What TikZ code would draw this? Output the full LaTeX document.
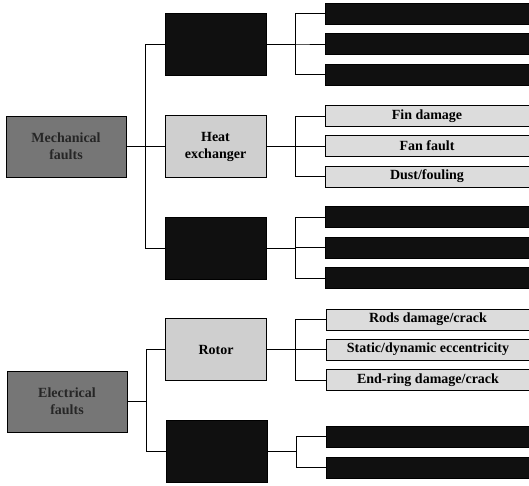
\documentclass[tikz,border=0pt]{standalone}
\usepackage{fontspec}
\setmainfont{Liberation Serif}
\definecolor{rootgray}{HTML}{767676}
\definecolor{midgray}{HTML}{CFCFCF}
\definecolor{leafgray}{HTML}{DCDCDC}
\definecolor{hidden}{HTML}{101010}

\begin{document}
\begin{tikzpicture}[x=1pt, y=-1pt,
  every node/.style={font=\bfseries\fontsize{14}{17}\selectfont, inner sep=0pt},
  root/.style={draw, fill=rootgray, minimum width=120pt, minimum height=61pt,
               align=center, text=black!85},
  part/.style={draw, fill=midgray, minimum width=101pt, minimum height=62pt,
               align=center},
  darkpart/.style={part, fill=hidden},
  leaf/.style={draw, fill=leafgray, minimum width=204pt, minimum height=21pt},
  darkleaf/.style={leaf, fill=hidden},
  link/.style={line width=0.8pt, black},
]
\useasboundingbox (0,0) rectangle (529,486);

% roots
\node[root] (mech) at (66, 146.5) {Mechanical\\faults};
\node[root] (elec) at (67, 401.5) {Electrical\\faults};

% second level
\node[darkpart] (mA) at (215.5, 44) {};
\node[part] (heat) at (215.5, 146.5) {Heat\\exchanger};
\node[darkpart] (mC) at (216, 248) {};
\node[part] (rotor) at (216, 349.5) {Rotor};
\node[darkpart] (eB) at (216.5, 451.5) {};

% leaves
\node[darkleaf] (a1) at (427, 13.5) {};
\node[darkleaf] (a2) at (427, 44) {};
\node[darkleaf] (a3) at (427, 74.5) {};
\node[leaf] (h1) at (427, 116) {Fin damage};
\node[leaf] (h2) at (427, 146) {Fan fault};
\node[leaf] (h3) at (427, 176.5) {Dust/fouling};
\node[darkleaf] (c1) at (427, 217) {};
\node[darkleaf] (c2) at (427, 247.5) {};
\node[darkleaf] (c3) at (427, 278) {};
\node[leaf] (r1) at (428, 319.5) {Rods damage/crack};
\node[leaf] (r2) at (428, 349.5) {Static/dynamic eccentricity};
\node[leaf] (r3) at (428, 380) {End-ring damage/crack};
\node[darkleaf] (e1) at (428, 436.5) {};
\node[darkleaf] (e2) at (428, 467.5) {};

% brackets
\foreach \k in {mA, heat, mC}
  \draw[link] (mech.east) -- ++(19,0) |- (\k.west);
\foreach \k in {rotor, eB}
  \draw[link] (elec.east) -- ++(19,0) |- (\k.west);
\foreach \k in {a1, a2, a3}
  \draw[link] (mA.east) -- ++(29,0) |- (\k.west);
\foreach \k in {h1, h2, h3}
  \draw[link] (heat.east) -- ++(29,0) |- (\k.west);
\foreach \k in {c1, c2, c3}
  \draw[link] (mC.east) -- ++(29,0) |- (\k.west);
\foreach \k in {r1, r2, r3}
  \draw[link] (rotor.east) -- ++(29,0) |- (\k.west);
\foreach \k in {e1, e2}
  \draw[link] (eB.east) -- ++(29,0) |- (\k.west);

\end{tikzpicture}
\end{document}
